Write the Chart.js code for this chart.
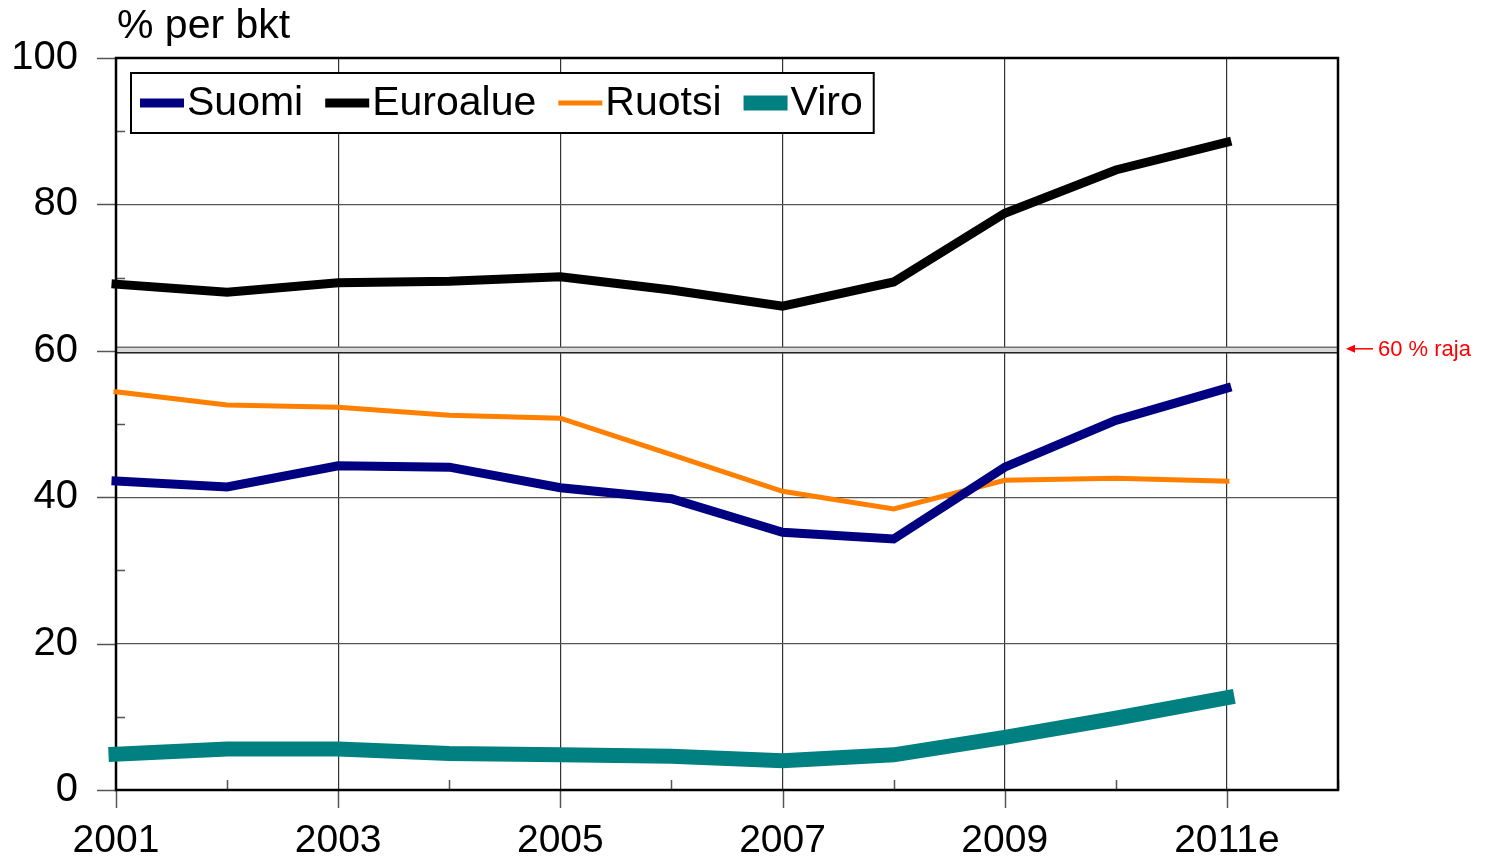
<!DOCTYPE html>
<html>
<head>
<meta charset="utf-8">
<script src="https://cdn.jsdelivr.net/npm/chart.js@4/dist/chart.umd.min.js"></script>
<style>
  body { margin: 0; background: #fff; }
  canvas { display: block; }
</style>
</head>
<body>
<canvas id="velkaChart" width="1485" height="860"></canvas>
<script>
// Julkinen velka, % per bkt
const years = [2001, 2002, 2003, 2004, 2005, 2006, 2007, 2008, 2009, 2010, 2011];
const suomi    = [42.2, 41.4, 44.3, 44.1, 41.3, 39.8, 35.2, 34.3, 44.1, 50.5, 54.9];
const euroalue = [69.1, 68.0, 69.3, 69.5, 70.1, 68.3, 66.1, 69.4, 78.8, 84.7, 88.5];
const ruotsi   = [54.4, 52.6, 52.3, 51.2, 50.8, 45.8, 40.8, 38.4, 42.3, 42.6, 42.2];
const viro     = [4.9, 5.6, 5.6, 5.0, 4.8, 4.6, 4.0, 4.8, 7.2, 9.8, 12.6];
const yearLabels = { 2001: "2001", 2003: "2003", 2005: "2005", 2007: "2007", 2009: "2009", 2011: "2011e" };
const yTicks = [0, 20, 40, 60, 80, 100];
const rajaValue = 60;

const FONT = "'Liberation Sans', Arial, sans-serif";

function points(arr) {
  return years.map((yr, i) => ({ x: yr, y: arr[i] }));
}

// Akselit, 60 % raja, legenda ja otsikko piirretään itse
const extras = {
  id: "extras",
  beforeDatasetsDraw(chart) {
    const { ctx, chartArea: a, scales: { x, y } } = chart;
    ctx.save();
    // 60 % raja -kaista
    const y60 = y.getPixelForValue(rajaValue);
    ctx.fillStyle = "#d8d8d8";
    ctx.fillRect(a.left, y60 - 3.5, a.right - a.left, 6);
    ctx.strokeStyle = "#707070";
    ctx.lineWidth = 1.5;
    ctx.beginPath();
    ctx.moveTo(a.left, y60 - 3.5); ctx.lineTo(a.right, y60 - 3.5);
    ctx.stroke();
    ctx.strokeStyle = "#222";
    ctx.beginPath();
    ctx.moveTo(a.left, y60 + 2); ctx.lineTo(a.right, y60 + 2);
    ctx.stroke();

    // tick-merkit
    ctx.strokeStyle = "#555";
    ctx.lineWidth = 1.5;
    ctx.beginPath();
    for (let v = 0; v <= 100; v += 10) {
      const py = Math.round(y.getPixelForValue(v)) + 0.5;
      if (v % 20 === 0) { ctx.moveTo(a.left - 19, py); ctx.lineTo(a.left, py); }
      else { ctx.moveTo(a.left, py); ctx.lineTo(a.left + 9, py); }
    }
    for (let yr = 2001; yr <= 2012; yr++) {
      const px = Math.round(x.getPixelForValue(yr)) + 0.5;
      if (yr % 2 === 1) { ctx.moveTo(px, a.bottom); ctx.lineTo(px, a.bottom + 18); }
      else { ctx.moveTo(px, a.bottom); ctx.lineTo(px, a.bottom - 10); }
    }
    ctx.stroke();

    // kehys
    ctx.strokeStyle = "#000";
    ctx.lineWidth = 2.5;
    ctx.strokeRect(a.left, a.top, a.right - a.left, a.bottom - a.top);
    ctx.restore();
  },
  afterDraw(chart) {
    const { ctx, chartArea: a, scales: { y } } = chart;
    ctx.save();
    // otsikko
    ctx.fillStyle = "#000";
    ctx.font = "41px " + FONT;
    ctx.textBaseline = "middle";
    ctx.textAlign = "left";
    ctx.fillText("% per bkt", 117, 27);

    // legenda
    const boxL = 131, boxT = 73, boxB = 133;
    let cx = 140;
    const items = [];
    chart.data.datasets.forEach(ds => {
      const w = ctx.measureText(ds.label).width;
      items.push({ ds, x: cx, w });
      cx += 47 + w + 22;
    });
    const boxR = cx - 22 + 11;
    ctx.fillStyle = "#fff";
    ctx.fillRect(boxL, boxT, boxR - boxL, boxB - boxT);
    ctx.strokeStyle = "#000";
    ctx.lineWidth = 2;
    ctx.strokeRect(boxL, boxT, boxR - boxL, boxB - boxT);
    const my = (boxT + boxB) / 2;
    items.forEach(it => {
      ctx.strokeStyle = it.ds.borderColor;
      ctx.lineWidth = it.ds.borderWidth;
      ctx.lineCap = "butt";
      ctx.beginPath();
      ctx.moveTo(it.x, my); ctx.lineTo(it.x + 44, my);
      ctx.stroke();
      ctx.fillStyle = "#000";
      ctx.fillText(it.ds.label, it.x + 47, my + 1);
    });

    // 60 % raja -merkintä
    const y60 = y.getPixelForValue(rajaValue) - 2;
    ctx.strokeStyle = "#ff0000";
    ctx.fillStyle = "#ff0000";
    ctx.lineWidth = 1.5;
    ctx.beginPath();
    ctx.moveTo(a.right + 10, y60); ctx.lineTo(a.right + 35, y60);
    ctx.stroke();
    ctx.beginPath();
    ctx.moveTo(a.right + 8, y60);
    ctx.lineTo(a.right + 17, y60 - 4);
    ctx.lineTo(a.right + 17, y60 + 4);
    ctx.closePath();
    ctx.fill();
    ctx.font = "22px " + FONT;
    ctx.fillText("60 % raja", a.right + 40, y60 + 1);
    ctx.restore();
  }
};

const ctx = document.getElementById("velkaChart").getContext("2d");
new Chart(ctx, {
  type: "line",
  data: {
    datasets: [
      { label: "Suomi", data: points(suomi), borderColor: "#000080", borderWidth: 9 },
      { label: "Euroalue", data: points(euroalue), borderColor: "#000000", borderWidth: 9 },
      { label: "Ruotsi", data: points(ruotsi), borderColor: "#ff8000", borderWidth: 5 },
      { label: "Viro", data: points(viro), borderColor: "#008080", borderWidth: 15 }
    ].map(ds => Object.assign(ds, {
      pointRadius: 0,
      pointHoverRadius: 0,
      tension: 0,
      fill: false,
      clip: false,
      borderCapStyle: "square",
      borderJoinStyle: "miter"
    }))
  },
  options: {
    responsive: false,
    animation: false,
    events: [],
    layout: { padding: { top: 58, right: 147, left: 0, bottom: 0 } },
    plugins: {
      legend: { display: false },
      tooltip: { enabled: false }
    },
    scales: {
      x: {
        type: "linear",
        min: 2001,
        max: 2012,
        afterFit: s => { s.height = 70; s.paddingLeft = 0; s.paddingRight = 0; },
        afterBuildTicks: s => { s.ticks = years.concat([2012]).map(v => ({ value: v })); },
        border: { display: false },
        grid: {
          drawTicks: false,
          lineWidth: 1.2,
          color: c => (c.tick && c.tick.value % 2 === 1 && c.tick.value > 2001) ? "#333" : "rgba(0,0,0,0)"
        },
        ticks: {
          autoSkip: false,
          maxRotation: 0,
          padding: 28,
          color: "#000",
          font: { family: FONT, size: 39 },
          callback: v => yearLabels[v] || ""
        }
      },
      y: {
        min: 0,
        max: 100,
        afterFit: s => { s.width = 116; s.paddingTop = 0; s.paddingBottom = 0; },
        afterBuildTicks: s => { s.ticks = yTicks.map(v => ({ value: v })); },
        border: { display: false },
        grid: {
          drawTicks: false,
          lineWidth: 1.2,
          color: c => (c.tick && [20, 40, 80].includes(c.tick.value)) ? "#555" : "rgba(0,0,0,0)"
        },
        ticks: {
          padding: 38,
          color: "#000",
          font: { family: FONT, size: 40 }
        }
      }
    }
  },
  plugins: [extras]
});
</script>
</body>
</html>
